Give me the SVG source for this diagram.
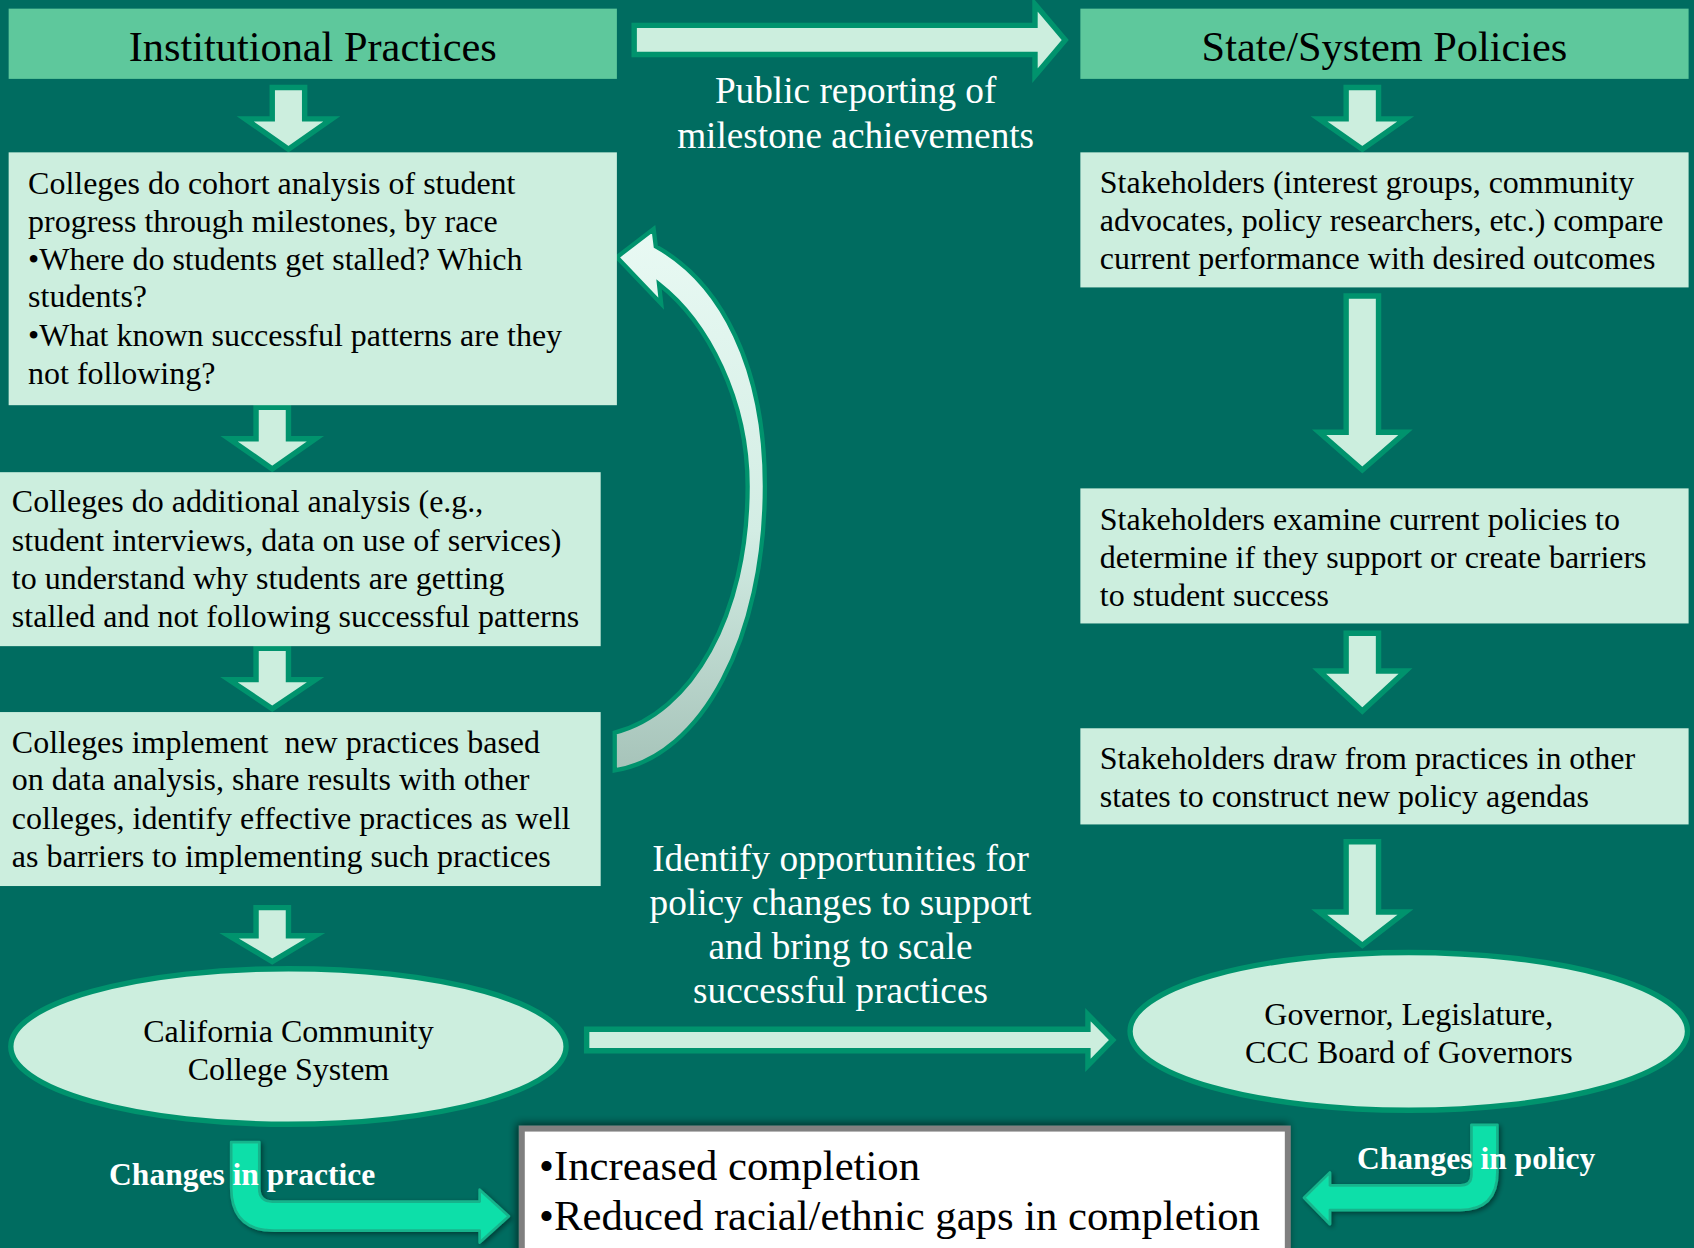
<svg xmlns="http://www.w3.org/2000/svg" width="1694" height="1248" viewBox="0 0 1694 1248">
<defs>
<style>
.bg{fill:#006C60}
.hdr{fill:#5EC89C}
.box{fill:#CCEEDE}
.arr{fill:#CCEEDE;stroke:#00936D;stroke-width:5;stroke-linejoin:miter}
.ell{fill:#CCEEDE;stroke:#00936D;stroke-width:5}
.bent{fill:#10DFA9;stroke:#17B48C;stroke-width:2.5;stroke-linejoin:round}
text{font-family:"Liberation Serif","Times New Roman",serif}
.ht{font-size:39.2px;fill:#000;text-anchor:middle}
.bt{font-size:29.6px;fill:#000}
.ct{font-size:29.6px;fill:#000;text-anchor:middle}
.wl{font-size:34.5px;fill:#FFFFFF;text-anchor:middle}
.wb{font-size:29.2px;fill:#FFFFFF;font-weight:bold}
.res{font-size:39.5px;fill:#000}
</style>
<linearGradient id="curveGrad" x1="0" y1="220" x2="0" y2="713" gradientUnits="userSpaceOnUse">
<stop offset="0" stop-color="#E8F9F3"/>
<stop offset="0.55" stop-color="#D3EDE4"/>
<stop offset="1" stop-color="#A6C3B9"/>
</linearGradient>
<filter id="shadow" x="-10%" y="-30%" width="120%" height="160%">
<feGaussianBlur in="SourceAlpha" stdDeviation="4"/>
<feOffset dx="-2" dy="-2" result="b"/>
<feComponentTransfer><feFuncA type="linear" slope="0.6"/></feComponentTransfer>
<feMerge><feMergeNode/><feMergeNode in="SourceGraphic"/></feMerge>
</filter>
<filter id="soft" x="-20%" y="-20%" width="140%" height="140%">
<feGaussianBlur in="SourceAlpha" stdDeviation="2.5"/>
<feOffset dx="2" dy="2"/>
<feComponentTransfer><feFuncA type="linear" slope="0.45"/></feComponentTransfer>
<feMerge><feMergeNode/><feMergeNode in="SourceGraphic"/></feMerge>
</filter>
</defs>
<rect class="bg" x="0" y="0" width="1694" height="1248"/>
<g transform="scale(1.08036 1.08052)">

<g id="connectors">
<path id="arrow-public" class="arr" d="M587 23.5 L958 23.5 L958 4 L986 37 L958 70 L958 50.5 L587 50.5 Z"/>
<path id="arrow-l1" class="arr" d="M252 81 L282 81 L282 110 L307 110 L267 138 L227 110 L252 110 Z"/>
<path id="arrow-l2" class="arr" d="M237 377 L267 377 L267 406 L292 406 L252 434 L212 406 L237 406 Z"/>
<path id="arrow-l3" class="arr" d="M237 600 L267 600 L267 629 L292 629 L252 656 L212 629 L237 629 Z"/>
<path id="arrow-l4" class="arr" d="M237 840 L267 840 L267 866 L292 866 L252 890 L212 866 L237 866 Z"/>
<path id="arrow-r1" class="arr" d="M1246 81 L1276 81 L1276 110 L1301 110 L1261 138 L1221 110 L1246 110 Z"/>
<path id="arrow-r2" class="arr" d="M1246 274 L1276 274 L1276 400 L1301 400 L1261 435 L1221 400 L1246 400 Z"/>
<path id="arrow-r3" class="arr" d="M1246 586 L1276 586 L1276 621 L1301 621 L1261 658 L1221 621 L1246 621 Z"/>
<path id="arrow-r4" class="arr" d="M1246 779 L1276 779 L1276 844 L1301 844 L1261 875 L1221 844 L1246 844 Z"/>
<path id="arrow-curve" d="M569 678 L569 713 C650 700 708 590 708 450 C708 340 668 262 607 228 L605 212 L571 238 L612 281 L610 263 C655 298 692 370 692 450 C692 570 640 660 569 678 Z" fill="url(#curveGrad)" stroke="#00936D" stroke-width="4" stroke-linejoin="miter"/>
<path id="arrow-policy" class="arr" d="M543 952.5 L1007 952.5 L1007 939 L1030 962.5 L1007 986 L1007 972.5 L543 972.5 Z"/>
<path id="arrow-practice" class="bent" filter="url(#soft)" d="M214 1057 L240 1057 L240 1100 Q240 1112 252 1112 L444 1112 L444 1101 L471 1125.5 L444 1150 L444 1139 L254 1139 Q214 1139 214 1099 Z"/>
<path id="arrow-policychange" class="bent" filter="url(#soft)" d="M1362 1041 L1386 1041 L1386 1085 Q1386 1120 1351 1120 L1231 1120 L1231 1133 L1207 1108.5 L1231 1085 L1231 1097 L1352 1097 Q1362 1097 1362 1087 Z"/>
</g>

<g id="hdr-institutional">
<rect class="hdr" x="8" y="8" width="563" height="65"/>
<text class="ht" x="289.5" y="56">Institutional Practices</text>
</g>
<g id="hdr-state">
<rect class="hdr" x="1000" y="8" width="563" height="65"/>
<text class="ht" x="1281.5" y="56">State/System Policies</text>
</g>

<g id="lbl-public">
<text class="wl" x="792" y="95">Public reporting of</text>
<text class="wl" x="792" y="137">milestone achievements</text>
</g>

<g id="box-cohort">
<rect class="box" x="8" y="141" width="563" height="234"/>
<text class="bt" x="26" y="179.5">Colleges do cohort analysis of student</text>
<text class="bt" x="26" y="214.5">progress through milestones, by race</text>
<text class="bt" x="26" y="249.5">•Where do students get stalled? Which</text>
<text class="bt" x="26" y="284.5">students?</text>
<text class="bt" x="26" y="320">•What known successful patterns are they</text>
<text class="bt" x="26" y="355">not following?</text>
</g>

<g id="box-additional">
<rect class="box" x="0" y="437" width="556" height="161"/>
<text class="bt" x="11" y="474">Colleges do additional analysis (e.g.,</text>
<text class="bt" x="11" y="509.5">student interviews, data on use of services)</text>
<text class="bt" x="11" y="545">to understand why students are getting</text>
<text class="bt" x="11" y="580.5">stalled and not following successful patterns</text>
</g>

<g id="box-implement">
<rect class="box" x="0" y="659" width="556" height="161"/>
<text class="bt" x="11" y="696.5" style="white-space:pre">Colleges implement  new practices based</text>
<text class="bt" x="11" y="731.5">on data analysis, share results with other</text>
<text class="bt" x="11" y="767">colleges, identify effective practices as well</text>
<text class="bt" x="11" y="802">as barriers to implementing such practices</text>
</g>

<g id="ell-ccc">
<ellipse class="ell" cx="267" cy="968.5" rx="257" ry="72"/>
<text class="ct" x="267" y="964.5">California Community</text>
<text class="ct" x="267" y="999.5">College System</text>
</g>

<g id="box-stakeholders">
<rect class="box" x="1000" y="141" width="563" height="125"/>
<text class="bt" x="1018" y="179">Stakeholders (interest groups, community</text>
<text class="bt" x="1018" y="214">advocates, policy researchers, etc.) compare</text>
<text class="bt" x="1018" y="249">current performance with desired outcomes</text>
</g>

<g id="box-examine">
<rect class="box" x="1000" y="452" width="563" height="125"/>
<text class="bt" x="1018" y="490.5">Stakeholders examine current policies to</text>
<text class="bt" x="1018" y="525.5">determine if they support or create barriers</text>
<text class="bt" x="1018" y="560.5">to student success</text>
</g>

<g id="box-draw">
<rect class="box" x="1000" y="674" width="563" height="89"/>
<text class="bt" x="1018" y="712">Stakeholders draw from practices in other</text>
<text class="bt" x="1018" y="747">states to construct new policy agendas</text>
</g>

<g id="lbl-identify">
<text class="wl" x="778" y="806">Identify opportunities for</text>
<text class="wl" x="778" y="847">policy changes to support</text>
<text class="wl" x="778" y="887.5">and bring to scale</text>
<text class="wl" x="778" y="928.5">successful practices</text>
</g>

<g id="ell-gov">
<ellipse class="ell" cx="1304" cy="954.5" rx="258" ry="73"/>
<text class="ct" x="1304" y="949">Governor, Legislature,</text>
<text class="ct" x="1304" y="983.5">CCC Board of Governors</text>
</g>

<g id="box-outcomes">
<rect x="483" y="1044.5" width="709" height="118" fill="#FFFFFF" stroke="#808080" stroke-width="5.5" filter="url(#shadow)"/>
<text class="res" x="499" y="1092">•Increased completion</text>
<text class="res" x="499" y="1138.5">•Reduced racial/ethnic gaps in completion</text>
</g>

<g id="lbl-changes">
<text class="wb" x="101" y="1097">Changes in practice</text>
<text class="wb" x="1256" y="1082">Changes in policy</text>
</g>

</g>
</svg>
